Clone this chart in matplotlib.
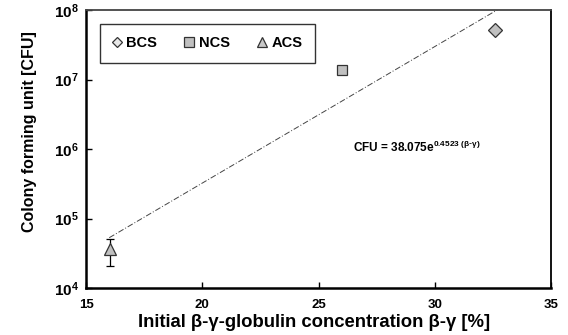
import numpy as np
import matplotlib
matplotlib.use("Agg")
import matplotlib.pyplot as plt
from matplotlib.lines import Line2D

plt.rcParams['font.family'] = ['Liberation Sans', 'DejaVu Sans']
plt.rcParams['mathtext.default'] = 'regular'

# Data
series = ["BCS", "NCS", "ACS"]
conc = [32.6, 26.0, 16.05]
cfu = [5.1e7, 1.35e7, 3.6e4]
err_low = [0, 0, 1.5e4]
err_high = [0, 0, 1.5e4]
markers = ["D", "s", "^"]
fit_a = 38.075
fit_b = 0.4523
fit_x_start = 16.0
xticks = [15, 20, 25, 30, 35]
ydecades = [4, 5, 6, 7, 8]

fig = plt.figure(figsize=(5.68, 3.35), dpi=100)
ax = fig.add_axes([86/568, 1-288/335, (551-86)/568, (288-10)/335])

# Trendline
xs = np.linspace(fit_x_start, 35, 200)
ax.plot(xs, fit_a*np.exp(fit_b*xs), color='#444444', lw=0.7, ls=(0, (6, 2, 1, 2)), zorder=1)

sizes = {"D": 7.0, "s": 7.0, "^": 9.0}
for name, x, y, lo, hi, m in zip(series, conc, cfu, err_low, err_high, markers):
    if lo or hi:
        ax.errorbar([x], [y], yerr=[[lo], [hi]], fmt='none', ecolor='black',
                    elinewidth=0.9, capsize=3, capthick=0.9, zorder=2)
    ax.plot([x], [y], marker=m, ms=sizes[m], mfc='#c0c0c0', mec='#333333',
            mew=0.9, ls='none', zorder=3)

# Legend (manual handles)
lfc = ['#e8e8e8', '#c0c0c0', '#c8c8c8']
lsz = {"D": 5.5, "s": 6.5, "^": 7.0}
handles = [Line2D([], [], marker=m, ls='none', mfc=c, mec='#333333', mew=0.9, ms=lsz[m])
           for m, c in zip(markers, lfc)]
leg = ax.legend(handles, series, ncol=3, loc='upper left',
                bbox_to_anchor=((100-86)/465, 1-(24-10)/278),
                frameon=True, fancybox=False, edgecolor='black',
                prop={'weight': 'bold', 'size': 10.5},
                handlelength=0.6, handletextpad=0.35, columnspacing=1.9,
                borderpad=0.85, borderaxespad=0)
leg.get_frame().set_linewidth(1.0)

ax.set_yscale('log')
ax.set_xlim(15, 35)
ax.set_ylim(1e4, 1e8)
ax.set_xticks(xticks)
ax.set_yticks([10.0**k for k in ydecades])
ax.yaxis.set_minor_locator(matplotlib.ticker.NullLocator())
ax.set_yticklabels([r'$\mathregular{10^{%d}}$' % k for k in ydecades])
ax.tick_params(direction='in', length=4, width=1)
ax.tick_params(axis='x', labelsize=9.5, pad=8)
ax.tick_params(axis='y', labelsize=11, pad=5)
for lab in ax.get_xticklabels() + ax.get_yticklabels():
    lab.set_fontweight('bold')

for sp in ['left', 'bottom']:
    ax.spines[sp].set_linewidth(1.8)
for sp in ['top', 'right']:
    ax.spines[sp].set_linewidth(1.3)
ax.spines['top'].set_color('#444444')

ax.set_xlabel('Initial β-γ-globulin concentration β-γ [%]', fontsize=13.3,
              fontweight='bold')
ax.xaxis.set_label_coords((314-86)/465, -(314-288)/278)
ax.set_ylabel('Colony forming unit [CFU]', fontsize=11.5, fontweight='bold')
ax.yaxis.set_label_coords(-(86-37)/465, 1-(132-10)/278)

ax.text((353-86)/465, 0.507, r'CFU = 38.075e$^{0.4523\ (β\text{-}γ)}$', transform=ax.transAxes,
        fontsize=8.5, fontweight='bold', va='center', ha='left')

fig.savefig('out.png', dpi=100)
